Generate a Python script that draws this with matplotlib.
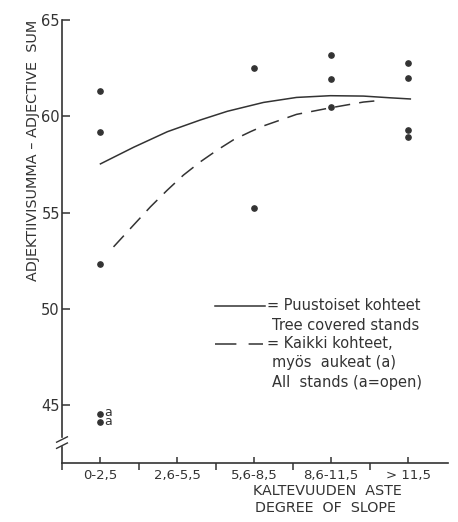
"""Adjective sum vs. degree of slope (scanned figure redraw)."""
import matplotlib
matplotlib.use("Agg")
import matplotlib.pyplot as plt
from matplotlib.lines import Line2D

plt.rcParams.update({
    "font.family": "DejaVu Sans",
    "text.color": "#333333",
    "axes.edgecolor": "#333333",
    "xtick.color": "#333333",
    "ytick.color": "#333333",
})
INK = "#333333"

# ---- data ----
categories = ["0-2,5", "2,6-5,5", "5,6-8,5", "8,6-11,5", "> 11,5"]

# observed stands: category index, adjective sum
obs_cat = [0, 0, 0, 2, 2, 3, 3, 3, 4, 4, 4, 4]
obs_val = [61.3, 59.2, 52.35, 62.5, 55.25, 63.2, 61.95, 60.5, 62.75, 62.0, 59.3, 58.95]

# open stands (marked "a")
open_cat = [0, 0]
open_val = [44.55, 44.15]

# fitted curve, tree covered stands (solid)
tree_x = [0.0, 0.43, 0.87, 1.30, 1.65, 2.12, 2.55, 2.99, 3.42, 3.77, 4.03]
tree_y = [57.53, 58.39, 59.20, 59.81, 60.26, 60.72, 60.98, 61.07, 61.05, 60.96, 60.90]

# fitted curve, all stands (dashed)
all_x = [0.17, 0.43, 0.65, 0.87, 1.08, 1.30, 1.52, 1.73, 1.95, 2.12, 2.55,
         2.99, 3.42, 3.68]
all_y = [53.22, 54.35, 55.30, 56.17, 56.95, 57.64, 58.25, 58.78, 59.20,
         59.50, 60.10, 60.44, 60.74, 60.84]

W, H = 458, 522
fig = plt.figure(figsize=(W / 100, H / 100), dpi=100)
ax = fig.add_axes([62 / W, 1 - 463 / H, 386 / W, 443 / H])


def fx(px):
    return px / W


def fy(py):
    return 1 - py / H


ax.set_xlim(-0.5, 4.52)
ax.set_ylim(42, 65)

for s in ("top", "right"):
    ax.spines[s].set_visible(False)
ax.spines["left"].set_bounds(43.35, 65)
ax.spines["left"].set_linewidth(1.2)
ax.spines["bottom"].set_linewidth(1.2)

# y axis break
ax.plot([-0.5, -0.5], [42, 42.82], color=INK, lw=1.2, clip_on=False)
for yb in (43.22, 42.9):
    ax.plot([-0.57, -0.43], [yb - 0.14, yb + 0.14], color=INK, lw=1.0,
            clip_on=False)

ax.set_yticks([45, 50, 55, 60, 65])
ax.tick_params(axis="y", direction="in", length=6, width=1.1, pad=1.5,
               labelsize=10.5)
ax.set_xticks(range(len(categories)))
ax.set_xticklabels(categories)
ax.set_xticks([-0.5, 0.5, 1.5, 2.5, 3.5], minor=True)
ax.tick_params(axis="x", which="major", direction="in", length=4.5,
               width=1.1, pad=4, labelsize=9.5)
ax.tick_params(axis="x", which="minor", direction="out", length=5, width=1.1)

# points
ax.plot(obs_cat, obs_val, "o", color=INK, ms=3.8, clip_on=False)
ax.plot(open_cat, open_val, "o", color=INK, ms=3.8, clip_on=False)
ax.text(open_cat[0] + 0.055, sum(open_val) / 2 + 0.05, "a\na", ha="left",
        va="center", fontsize=9, linespacing=0.62, color=INK)

# curves
ax.plot(tree_x, tree_y, color=INK, lw=1.1)
ax.plot(all_x, all_y, color=INK, lw=1.1, dashes=(10, 6))

# legend, drawn by hand like the original
fs = 10.5
fig.add_artist(Line2D([fx(215), fx(265)], [fy(305.5), fy(305.5)],
                      color=INK, lw=1.1))
fig.text(fx(267), fy(305.5), "= Puustoiset kohteet", fontsize=fs,
         va="center", ha="left")
fig.text(fx(272), fy(325.5), "Tree covered stands", fontsize=fs,
         va="center", ha="left")
fig.add_artist(Line2D([fx(215), fx(263)], [fy(343.5), fy(343.5)],
                      color=INK, lw=1.1, dashes=(14, 8)))
fig.text(fx(267), fy(343.5), "= Kaikki kohteet,", fontsize=fs,
         va="center", ha="left")
fig.text(fx(272), fy(363), "myös  aukeat (a)", fontsize=fs,
         va="center", ha="left")
fig.text(fx(272), fy(383), "All  stands (a=open)", fontsize=fs,
         va="center", ha="left")

# axis titles
fig.text(fx(33), fy(150), "ADJEKTIIVISUMMA – ADJECTIVE  SUM", rotation=90,
         fontsize=10.4, ha="center", va="center")
fig.text(fx(253), fy(491), "KALTEVUUDEN  ASTE", fontsize=10.3,
         ha="left", va="center")
fig.text(fx(255), fy(508.5), "DEGREE  OF  SLOPE", fontsize=10.3,
         ha="left", va="center")

fig.savefig("out.png", dpi=100, facecolor="white")
